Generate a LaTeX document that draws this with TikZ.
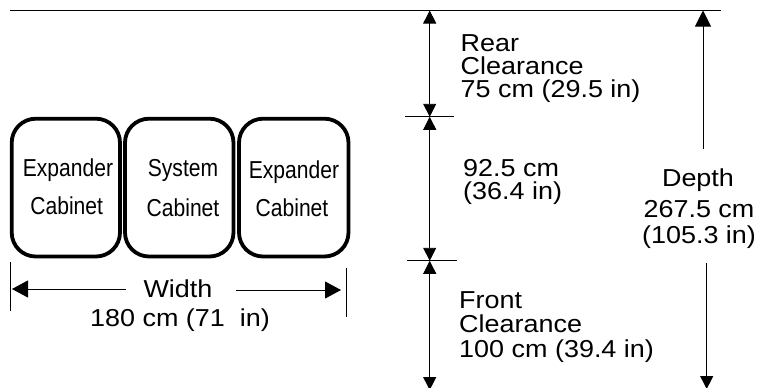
\documentclass[tikz,border=0pt]{standalone}
\usepackage{fontspec}
\setmainfont{Liberation Sans}
\usetikzlibrary{arrows.meta}
\tikzset{
  x=1bp,y=-1bp,
  cabinet/.style={draw,line width=3.8bp,rounded corners=24bp},
  dimline/.style={line width=0.9bp},
  ruleline/.style={line width=0.8bp},
  tip/.style={-{Triangle[length=13bp,width=13bp]}},
  tipb/.style={-{Triangle[length=16bp,width=16bp]}},
  tipw/.style={-{Triangle[length=16bp,width=17bp]}},
  lab/.style={inner sep=0pt,transform shape,xscale=1.1,font=\fontsize{24.5bp}{23bp}\selectfont,align=left,anchor=base west},
  labf/.style={lab,font=\fontsize{24.5bp}{24.5bp}\selectfont},
  labc/.style={inner sep=0pt,transform shape,xscale=1.1,font=\fontsize{24.5bp}{26bp}\selectfont,align=center,anchor=base},
  cab/.style={inner sep=0pt,transform shape,xscale=0.86,font=\fontsize{24.5bp}{26bp}\selectfont,anchor=base},
}
\begin{document}
\begin{tikzpicture}
\useasboundingbox (0,0) rectangle (759,387);
\clip (0,0) rectangle (759,387);
% cabinets
\draw[cabinet] (11.7,118.7) rectangle (120,256.5);
\draw[cabinet] (125,118.7) rectangle (233.5,256.5);
\draw[cabinet] (239,118.7) rectangle (348.5,256.5);
\node[cab] (e1a) at (68,176) {Expander};
\node[cab] (e1b) at (66.7,214) {Cabinet};
\node[cab] (sa) at (183,176) {System};
\node[cab] (sb) at (183,216) {Cabinet};
\node[cab] (e2a) at (294,178) {Expander};
\node[cab] (e2b) at (292,216) {Cabinet};
% width
\coordinate (wl) at (10,262);
\coordinate (wl2) at (10,311);
\coordinate (wr) at (346,268);
\coordinate (wr2) at (346,317);
\draw[ruleline] (wl) -- (wl2);
\draw[ruleline] (wr) -- (wr2);
\node[labc] (wt) at (178,297) {Width};
\node[labc] (wv) at (180,326.5) {180 cm (71\ \ in)};
\coordinate (wla) at (126,289);
\coordinate (wlb) at (12,289);
\coordinate (wra) at (236,290);
\coordinate (wrb) at (341,290);
\draw[dimline,tipw] (wla) -- (wlb);
\draw[dimline,tipw] (wra) -- (wrb);
% horizontal rules
\coordinate (t0) at (10,10.5);
\coordinate (t1) at (720.5,10.5);
\coordinate (m0) at (405,116.8);
\coordinate (m1) at (454,116.8);
\coordinate (f0) at (407,260.8);
\coordinate (f1) at (457,260.8);
\draw[ruleline] (t0) -- (t1);
\draw[ruleline] (m0) -- (m1);
\draw[ruleline] (f0) -- (f1);
% vertical dims
\coordinate (r1) at (429.7,10.5);
\coordinate (r2) at (429.7,116.8);
\coordinate (r3) at (429.7,260.8);
\coordinate (r4) at (429.7,390);
\coordinate (rm1) at (429.7,64);
\coordinate (rm2) at (429.7,190);
\coordinate (rm3) at (429.7,320);
\draw[dimline,tip] (rm1) -- (r1);
\draw[dimline,tip] (rm1) -- (r2);
\draw[dimline,tip] (rm2) -- (r2);
\draw[dimline,tip] (rm2) -- (r3);
\draw[dimline,tip] (rm3) -- (r3);
\draw[dimline,tip] (rm3) -- (r4);
\coordinate (d1) at (703,10.5);
\coordinate (d1b) at (703,148.5);
\coordinate (d2) at (706.7,262.5);
\coordinate (d2b) at (706.7,389);
\draw[dimline,tipb] (d1b) -- (d1);
\draw[dimline,tip] (d2) -- (d2b);
% labels
\node[lab] (rear) at (460.5,97) {Rear\\Clearance\\75 cm (29.5 in)};
\node[lab] (mid) at (463,199) {92.5 cm\\(36.4 in)};
\node[labf] (front) at (459,357) {Front\\Clearance\\100 cm (39.4 in)};
\node[labc] (dep) at (698,186.5) {Depth};
\node[labc] (depv) at (699,243) {267.5 cm\\(105.3 in)};
\end{tikzpicture}
\end{document}
